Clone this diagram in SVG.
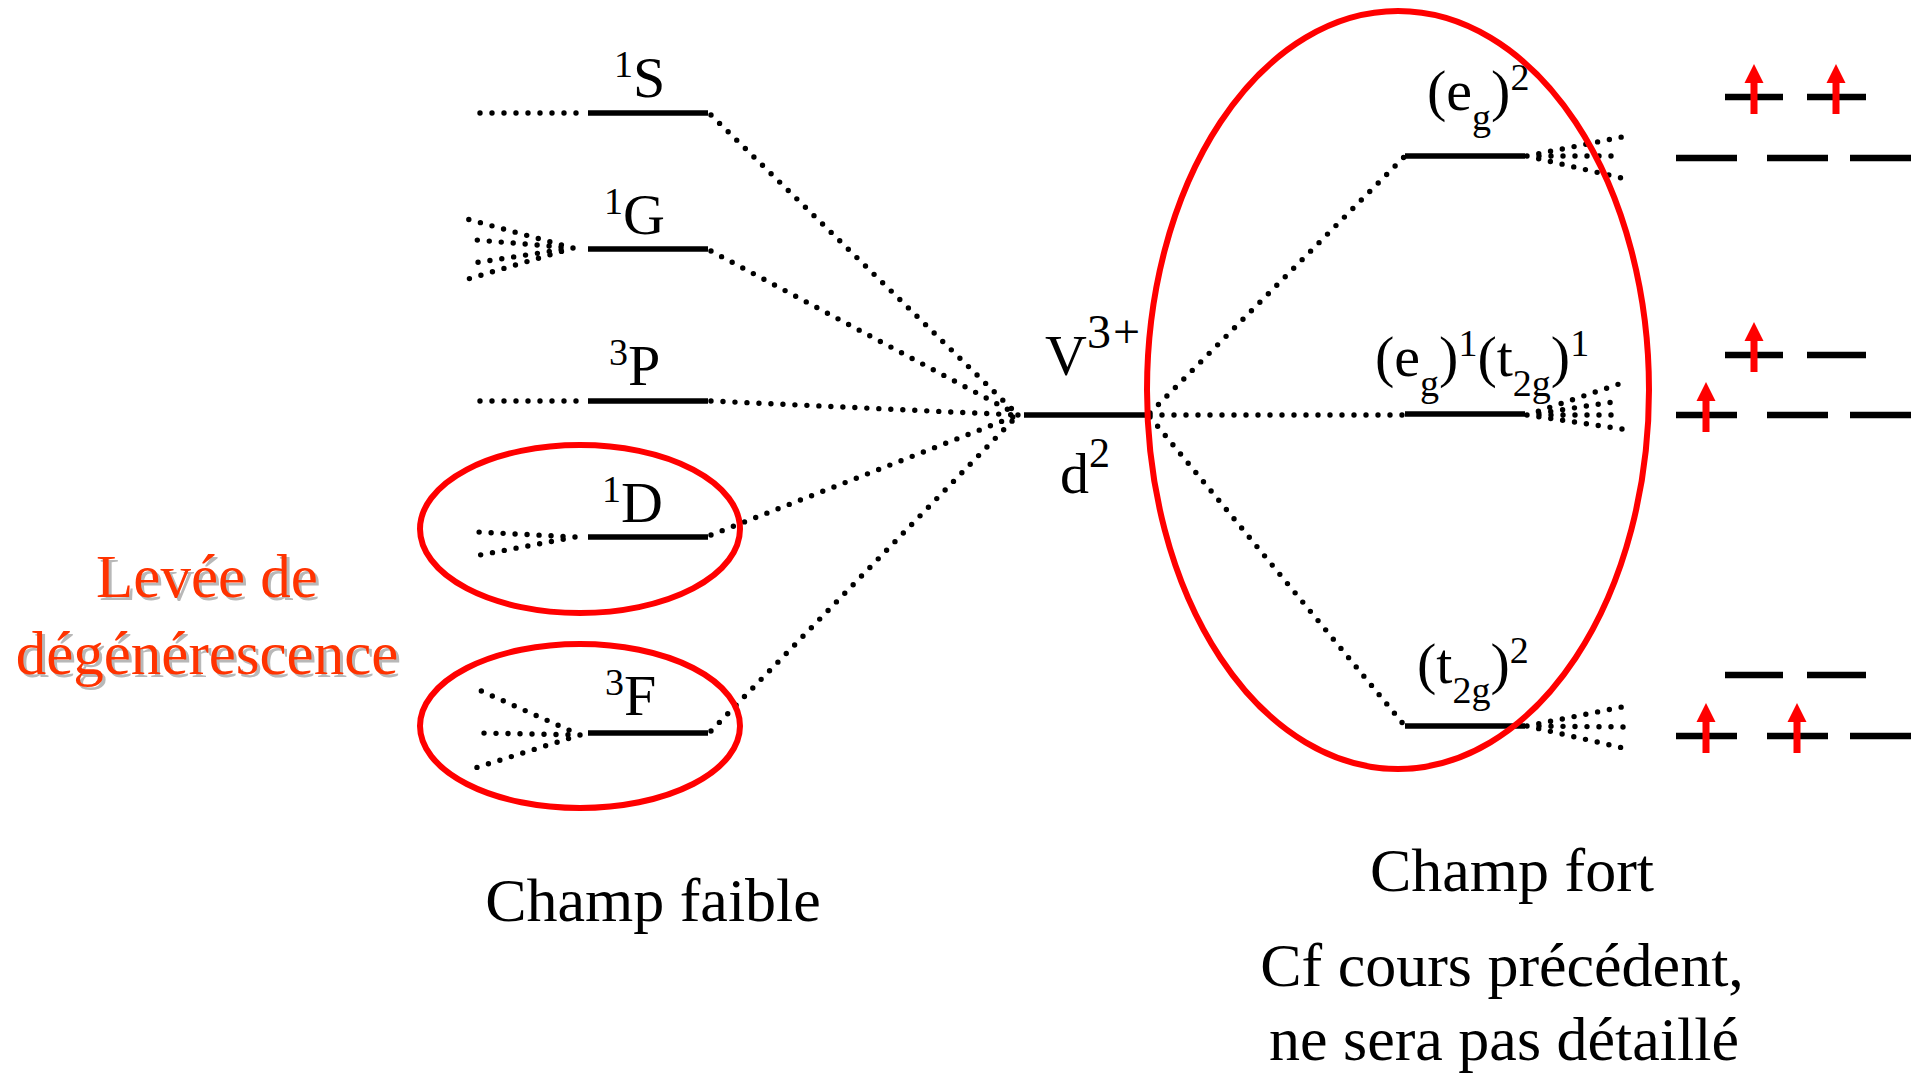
<svg xmlns="http://www.w3.org/2000/svg" width="1921" height="1078" viewBox="0 0 1921 1078">
<style>
.dot{fill:none;stroke:#000;stroke-width:5.4;stroke-linecap:round;stroke-dasharray:0 12}
.lvl{stroke:#000;stroke-width:5.5;fill:none}
.ell{fill:none;stroke:#FF0000;stroke-width:6}
.lbl{font-family:"Liberation Serif","Times New Roman",serif;font-size:58px;fill:#000}
.txt{font-family:"Liberation Serif","Times New Roman",serif;font-size:62px;fill:#000}
.red{font-family:"Liberation Serif","Times New Roman",serif;font-size:61px;fill:#FF3300}
.shd{font-family:"Liberation Serif","Times New Roman",serif;font-size:61px;fill:#B8B8B8}
.dash{stroke:#000;stroke-width:6.5}
</style>
<defs>
<g id="up"><rect x="-3.5" y="-15" width="7" height="32" fill="#FF0000"/><polygon points="0,-33 -9.5,-14 9.5,-14" fill="#FF0000"/></g>
</defs>
<rect width="1921" height="1078" fill="#fff"/>

<g id="connectors">
<path class="dot" d="M576,113 L479,113"/>
<path class="dot" d="M573,248 L467,219 M573,248 L476,240 M573,248 L473,263 M573,248 L468,279"/>
<path class="dot" d="M576,401 L479,401"/>
<path class="dot" d="M575,537 L477,532 M575,537 L480,555"/>
<path class="dot" d="M580,735 L479,690 M580,735 L479,733 M580,735 L475,768"/>
<path class="dot" d="M711,115 L1018,415"/>
<path class="dot" d="M711,251 L1018,415"/>
<path class="dot" d="M711,401 L1018,415"/>
<path class="dot" d="M711,535 L1018,415"/>
<path class="dot" d="M711,731 L1018,415"/>
<path class="dot" d="M1150,413 L1405,156"/>
<path class="dot" d="M1150,415 L1405,415"/>
<path class="dot" d="M1150,417 L1405,726"/>
<path class="dot" d="M1527,156 L1632,135 M1527,156 L1622,156 M1527,156 L1630,180"/>
<path class="dot" d="M1527,415 L1622,383 M1527,415 L1620,401 M1527,415 L1620,415 M1527,415 L1622,429"/>
<path class="dot" d="M1527,726 L1632,705 M1527,726 L1630,727 M1527,726 L1632,750"/>
</g>

<g id="level-1S"><line class="lvl" x1="588" y1="113" x2="708" y2="113"/>
<text class="lbl" x="614" y="97"><tspan font-size="38" dy="-20">1</tspan><tspan dy="20">S</tspan></text></g>
<g id="level-1G"><line class="lvl" x1="588" y1="249" x2="708" y2="249"/>
<text class="lbl" x="604" y="234"><tspan font-size="38" dy="-20">1</tspan><tspan dy="20">G</tspan></text></g>
<g id="level-3P"><line class="lvl" x1="588" y1="401" x2="708" y2="401"/>
<text class="lbl" x="609" y="385"><tspan font-size="38" dy="-20">3</tspan><tspan dy="20">P</tspan></text></g>
<g id="level-1D"><line class="lvl" x1="588" y1="537" x2="708" y2="537"/>
<text class="lbl" x="602" y="522"><tspan font-size="38" dy="-20">1</tspan><tspan dy="20">D</tspan></text>
<ellipse class="ell" cx="580" cy="529" rx="160" ry="84"/></g>
<g id="level-3F"><line class="lvl" x1="588" y1="733" x2="708" y2="733"/>
<text class="lbl" x="605" y="715"><tspan font-size="38" dy="-20">3</tspan><tspan dy="20">F</tspan></text>
<ellipse class="ell" cx="580" cy="726" rx="160" ry="82"/></g>

<g id="level-V"><line class="lvl" x1="1024" y1="415" x2="1148" y2="415"/>
<text class="lbl" x="1045" y="375" font-size="62">V<tspan font-size="48" dy="-27" letter-spacing="2">3+</tspan></text>
<text class="lbl" x="1060" y="493" font-size="62">d<tspan font-size="42" dy="-26">2</tspan></text></g>

<g id="level-eg2"><line class="lvl" x1="1405" y1="156" x2="1525" y2="156"/>
<text class="lbl" x="1427" y="110" font-size="56">(e<tspan font-size="38" dy="20">g</tspan><tspan dy="-20">)</tspan><tspan font-size="38" dy="-20">2</tspan></text></g>
<g id="level-eg1t2g1"><line class="lvl" x1="1405" y1="414" x2="1525" y2="414"/>
<text class="lbl" x="1375" y="376" font-size="56">(e<tspan font-size="38" dy="20">g</tspan><tspan dy="-20">)</tspan><tspan font-size="38" dy="-20">1</tspan><tspan dy="20">(t</tspan><tspan font-size="38" dy="20">2g</tspan><tspan dy="-20">)</tspan><tspan font-size="38" dy="-20">1</tspan></text></g>
<g id="level-t2g2"><line class="lvl" x1="1405" y1="726" x2="1525" y2="726"/>
<text class="lbl" x="1417" y="683" font-size="56">(t<tspan font-size="38" dy="20">2g</tspan><tspan dy="-20">)</tspan><tspan font-size="38" dy="-20">2</tspan></text></g>

<g id="strong-field-ellipse"><ellipse class="ell" cx="1398" cy="390" rx="251" ry="379"/></g>

<g id="orbitals">
<line class="dash" x1="1725" y1="97" x2="1783" y2="97"/><line class="dash" x1="1807" y1="97" x2="1866" y2="97"/>
<line class="dash" x1="1676" y1="158" x2="1737" y2="158"/><line class="dash" x1="1767" y1="158" x2="1828" y2="158"/><line class="dash" x1="1850" y1="158" x2="1911" y2="158"/>
<line class="dash" x1="1725" y1="355" x2="1783" y2="355"/><line class="dash" x1="1807" y1="355" x2="1866" y2="355"/>
<line class="dash" x1="1676" y1="415" x2="1737" y2="415"/><line class="dash" x1="1767" y1="415" x2="1828" y2="415"/><line class="dash" x1="1850" y1="415" x2="1911" y2="415"/>
<line class="dash" x1="1725" y1="675" x2="1783" y2="675"/><line class="dash" x1="1807" y1="675" x2="1866" y2="675"/>
<line class="dash" x1="1676" y1="736" x2="1737" y2="736"/><line class="dash" x1="1767" y1="736" x2="1828" y2="736"/><line class="dash" x1="1850" y1="736" x2="1911" y2="736"/>
<use href="#up" x="1754" y="97"/><use href="#up" x="1836" y="97"/>
<use href="#up" x="1754" y="355"/>
<use href="#up" x="1706" y="415"/>
<use href="#up" x="1706" y="736"/><use href="#up" x="1797" y="736"/>
</g>

<g id="label-levee">
<text class="shd" x="210" y="600" text-anchor="middle">Levée de</text>
<text class="shd" x="210" y="677" text-anchor="middle">dégénérescence</text>
<text class="red" x="207" y="597" text-anchor="middle">Levée de</text>
<text class="red" x="207" y="674" text-anchor="middle">dégénérescence</text>
</g>
<g id="label-faible"><text class="txt" x="653" y="921" text-anchor="middle">Champ faible</text></g>
<g id="label-fort">
<text class="txt" x="1512" y="891" text-anchor="middle">Champ fort</text>
<text class="txt" x="1502" y="986" text-anchor="middle">Cf cours précédent,</text>
<text class="txt" x="1504" y="1060" text-anchor="middle">ne sera pas détaillé</text>
</g>
</svg>
